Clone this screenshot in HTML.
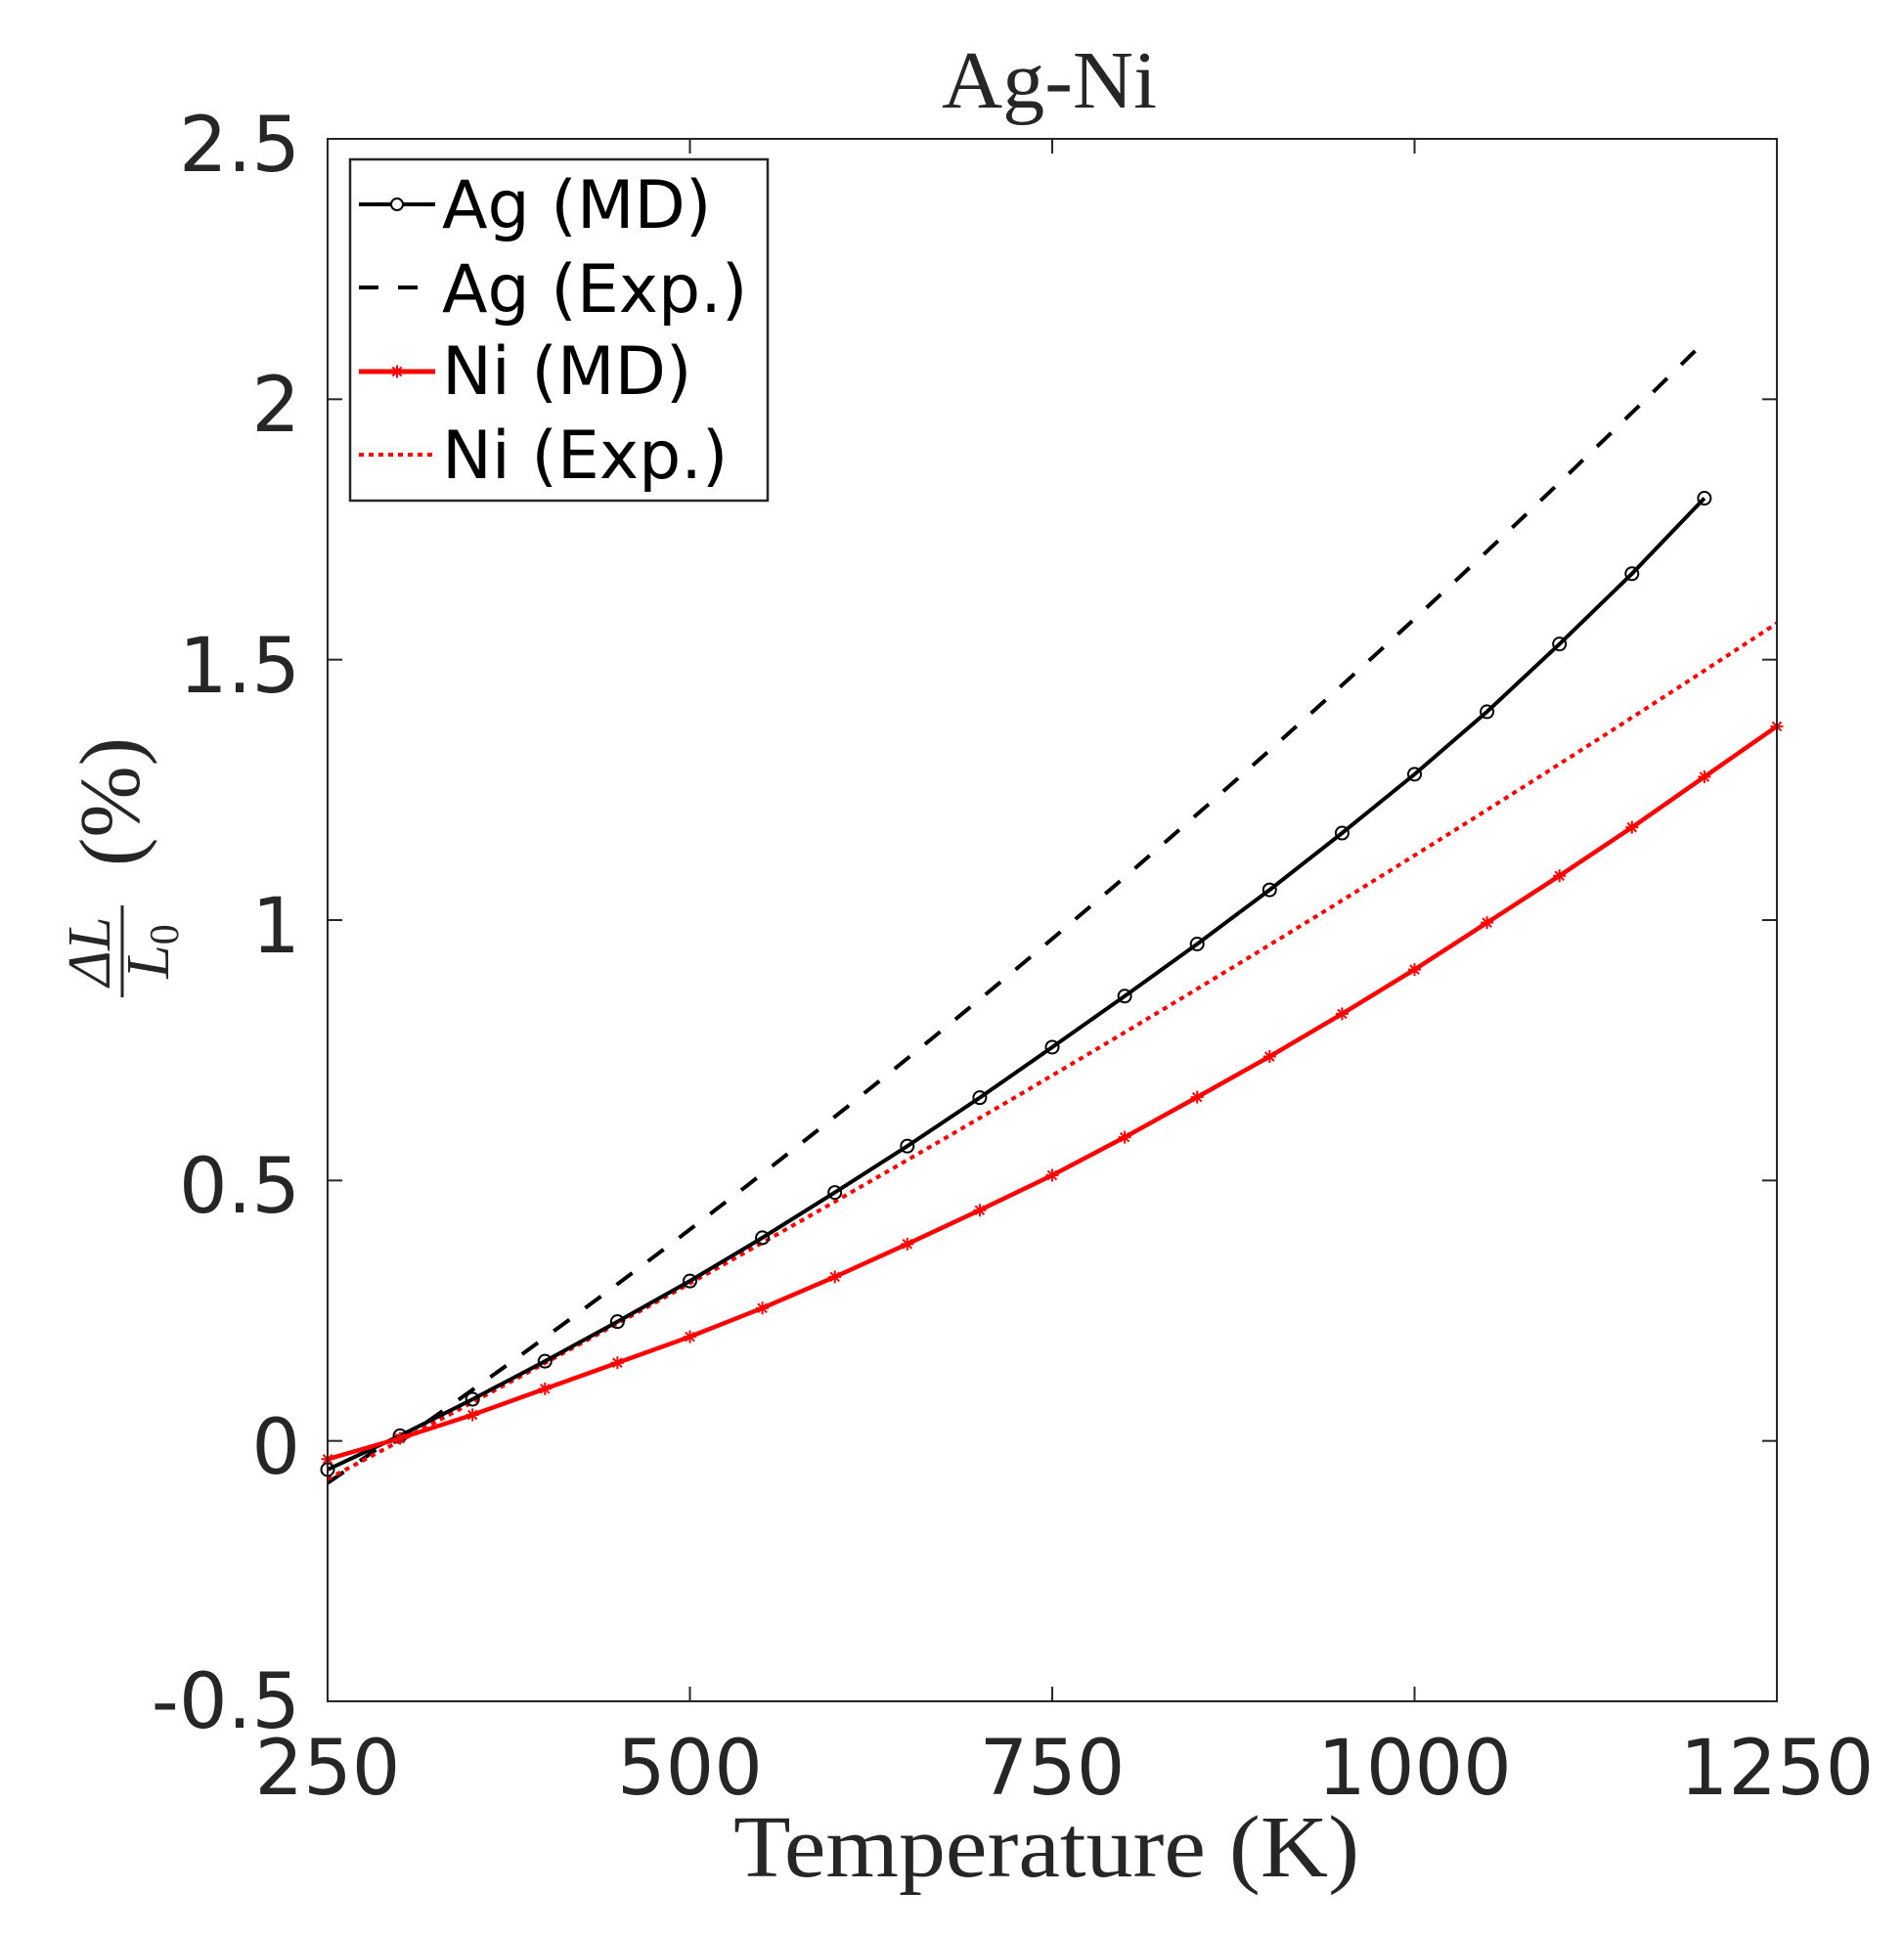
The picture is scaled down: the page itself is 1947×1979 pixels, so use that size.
<!DOCTYPE html>
<html><head><meta charset="utf-8"><style>
html,body{margin:0;padding:0;background:#fff;}
svg{display:block;}
</style></head><body>
<svg id="s" width="1947" height="1979" xmlns="http://www.w3.org/2000/svg">
<rect width="1947" height="1979" fill="#fff"/>
<g id="plot"></g>
<rect x="335" y="142" width="1482" height="1598" fill="none" stroke="#262626" stroke-width="2"/>
<g font-family="DejaVu Sans, Liberation Sans, sans-serif" font-size="78" fill="#262626">
<text x="307" y="175" text-anchor="end">2.5</text>
<text x="307" y="441" text-anchor="end">2</text>
<text x="307" y="708" text-anchor="end">1.5</text>
<text x="307" y="974" text-anchor="end">1</text>
<text x="307" y="1240" text-anchor="end">0.5</text>
<text x="307" y="1507" text-anchor="end">0</text>
<text x="307" y="1767" text-anchor="end">-0.5</text>
<text x="335" y="1835" text-anchor="middle">250</text>
<text x="705.5" y="1835" text-anchor="middle">500</text>
<text x="1076" y="1835" text-anchor="middle">750</text>
<text x="1446.5" y="1835" text-anchor="middle">1000</text>
<text x="1817" y="1835" text-anchor="middle">1250</text>
</g>
<g font-family="Liberation Serif, DejaVu Serif, serif" fill="#262626">
<text x="963" y="110" font-size="84" textLength="220" lengthAdjust="spacingAndGlyphs">Ag-Ni</text>
<text x="750" y="1919" font-size="90" textLength="640" lengthAdjust="spacingAndGlyphs">Temperature (K)</text>
<g transform="translate(120,928) rotate(-90)">
<text x="-45" y="-8" text-anchor="middle" font-size="62" font-style="italic">ΔL</text>
<line x1="-92" y1="5" x2="2" y2="5" stroke="#262626" stroke-width="3"/>
<text x="-45" y="52" text-anchor="middle" font-size="62" font-style="italic">L<tspan font-size="42" font-style="normal" dy="10">0</tspan></text>
<text x="108" y="22" text-anchor="middle" font-size="88">(%)</text>
</g>
</g>
<rect x="358" y="163" width="427" height="349" fill="#fff" stroke="#262626" stroke-width="2.5"/>
<g font-family="DejaVu Sans, Liberation Sans, sans-serif" font-size="68" fill="#000">
<text x="452" y="233">Ag (MD)</text>
<text x="452" y="319">Ag (Exp.)</text>
<text x="452" y="403">Ni (MD)</text>
<text x="452" y="489">Ni (Exp.)</text>
</g>
<line x1="367" y1="209" x2="445" y2="209" stroke="#000" stroke-width="4"/>
<circle cx="406" cy="209" r="6" fill="#fff" stroke="#000" stroke-width="2"/>
<line x1="367" y1="294" x2="445" y2="294" stroke="#000" stroke-width="4" stroke-dasharray="20,20"/>
<line x1="367" y1="380" x2="445" y2="380" stroke="#f00" stroke-width="5"/>
<g id="legstar"></g>
<line x1="367" y1="465" x2="445" y2="465" stroke="#f00" stroke-width="4" stroke-dasharray="5,5"/>
</svg>
<script>
var X=function(t){return 335+(t-250)*1.482;};
var Y=function(v){return 1740-(v+0.5)*532.667;};
var ns="http://www.w3.org/2000/svg";
var g=document.getElementById('plot');
function el(n,a,p){var e=document.createElementNS(ns,n);for(var k in a)e.setAttribute(k,a[k]);(p||g).appendChild(e);return e;}
[0,0.5,1,1.5,2].forEach(function(v){var y=Y(v);el('line',{x1:335,y1:y,x2:350,y2:y,stroke:'#262626','stroke-width':2});el('line',{x1:1802,y1:y,x2:1817,y2:y,stroke:'#262626','stroke-width':2});});
[500,750,1000].forEach(function(t){var x=X(t);el('line',{x1:x,y1:1740,x2:x,y2:1725,stroke:'#262626','stroke-width':2});el('line',{x1:x,y1:142,x2:x,y2:157,stroke:'#262626','stroke-width':2});});
function path(pts,attrs){var d=pts.map(function(p,i){return (i?'L':'M')+X(p[0]).toFixed(1)+','+Y(p[1]).toFixed(1);}).join('');attrs.d=d;attrs.fill='none';el('path',attrs);}
var agexp=[],niexp=[];
for(var t=250;t<=1200;t+=10){var d=t-300;agexp.push([t,0.00194*d+4.5e-7*d*d+(d<0?0.015:0)]);}
for(var t=250;t<=1250;t+=10){var d=t-300;niexp.push([t,0.0014754*d+1.866e-7*d*d]);}
var agmd=[-0.055,0.01,0.08,0.153,0.229,0.307,0.39,0.477,0.566,0.659,0.756,0.854,0.954,1.058,1.167,1.28,1.40,1.53,1.665,1.81].map(function(v,i){return [250+50*i,v];});
var nimd=[-0.035,0.005,0.05,0.1,0.15,0.2,0.255,0.315,0.378,0.443,0.51,0.583,0.66,0.738,0.82,0.905,0.995,1.085,1.178,1.275,1.372].map(function(v,i){return [250+50*i,v];});
path(agexp,{stroke:'#000','stroke-width':4,'stroke-dasharray':'20,20'});
path(niexp,{stroke:'#f00','stroke-width':4,'stroke-dasharray':'5,5'});
path(agmd,{stroke:'#000','stroke-width':4});
agmd.forEach(function(p){el('circle',{cx:X(p[0]),cy:Y(p[1]),r:6.5,fill:'none',stroke:'#000','stroke-width':2});});
path(nimd,{stroke:'#f00','stroke-width':4.5});
function star(x,y,par){var r=6.5,s='';[[0,1],[1,0],[0.7,0.7],[0.7,-0.7]].forEach(function(v){s+='M'+(x-v[0]*r)+','+(y-v[1]*r)+'L'+(x+v[0]*r)+','+(y+v[1]*r);});el('path',{d:s,stroke:'#f00','stroke-width':2,fill:'none'},par);}
nimd.forEach(function(p){star(X(p[0]),Y(p[1]));});
star(406,380,document.getElementById('legstar'));
</script>
</body></html>
